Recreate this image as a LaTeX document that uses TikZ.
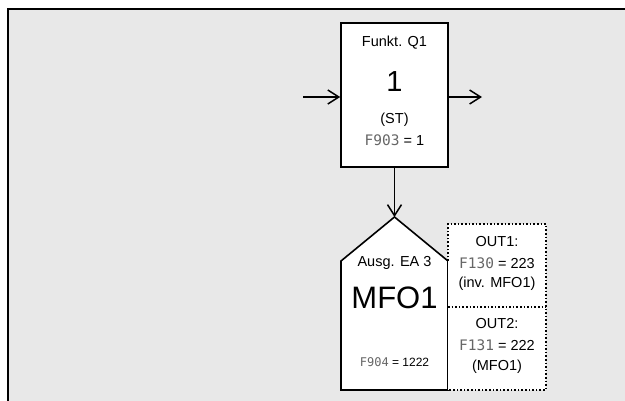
\documentclass[tikz,border=0pt]{standalone}
\usepackage{fontspec}
\setmainfont{Liberation Sans}
\newfontfamily\segfont{DejaVu Sans Mono}
\usetikzlibrary{arrows.meta}
\definecolor{bggray}{HTML}{E8E8E8}
\newcommand{\seg}[1]{{\segfont\color{black!60}#1}}
\tikzset{
  conn/.style={line width=1.6pt,-{Straight Barb[length=11pt,width=14pt,line width=1.5pt]}},
  boxline/.style={line width=1.6pt},
  dotline/.style={line width=1.6pt,dotted},
  txt/.style={inner sep=0pt,anchor=center},
}
\begin{document}
\begin{tikzpicture}[x=1pt,y=-1pt]
\useasboundingbox (0,0) rectangle (625,400);
\clip (0,0) rectangle (625,400);
\fill[bggray] (8,9) rectangle (640,410);
\draw[line width=2.4pt] (8,410) -- (8,9) -- (640,9);
% top box
\node[boxline,draw,fill=white,minimum width=107pt,minimum height=144pt,inner sep=0pt] (q1) at (394.5,95) {};
\node[txt,font=\fontsize{14.5}{16}\selectfont] (t1) at (394.5,43) {Funkt. Q1};
\node[txt,font=\fontsize{29}{30}\selectfont] (t2) at (394.5,82) {1};
\node[txt,font=\fontsize{14.5}{16}\selectfont] (t3) at (394.5,120) {(ST)};
\node[txt,font=\fontsize{14.5}{16}\selectfont] (t4) at (394.5,140) {\seg{F903} = 1};
\coordinate (inL) at (303,97);
\coordinate (outR) at (482,97);
\draw[conn] (inL) -- (q1.west |- inL);
\draw[conn] (q1.east |- outR) -- (outR);
% pentagon
\coordinate (apex) at (394.5,217);
\draw[boxline,fill=white] (apex) -- (448,261) -- (448,390) -- (341,390) -- (341,261) -- cycle;
\draw[conn] (q1.south) -- (apex);
\node[txt,font=\fontsize{14.5}{16}\selectfont] (p1) at (394.5,263) {Ausg. EA 3};
\node[txt,font=\fontsize{31}{33}\selectfont] (p2) at (394.5,298) {MFO1};
\node[txt,font=\fontsize{12}{14}\selectfont] (p3) at (394.5,362) {\seg{F904} = 1222};
% dotted box
\fill[white] (448,224) rectangle (546,390);
\draw[dotline] (448,261) -- (448,224) -- (546,224) -- (546,390) -- (448,390);
\draw[dotline] (448,307) -- (546,307);
\node[txt,font=\fontsize{14.5}{16}\selectfont] (o1) at (497,242) {OUT1:};
\node[txt,font=\fontsize{14.5}{16}\selectfont] (o2) at (497,263) {\seg{F130} = 223};
\node[txt,font=\fontsize{14.5}{16}\selectfont] (o3) at (497,284) {(inv. MFO1)};
\node[txt,font=\fontsize{14.5}{16}\selectfont] (o4) at (497,324) {OUT2:};
\node[txt,font=\fontsize{14.5}{16}\selectfont] (o5) at (497,345) {\seg{F131} = 222};
\node[txt,font=\fontsize{14.5}{16}\selectfont] (o6) at (497,367) {(MFO1)};
\end{tikzpicture}
\end{document}
